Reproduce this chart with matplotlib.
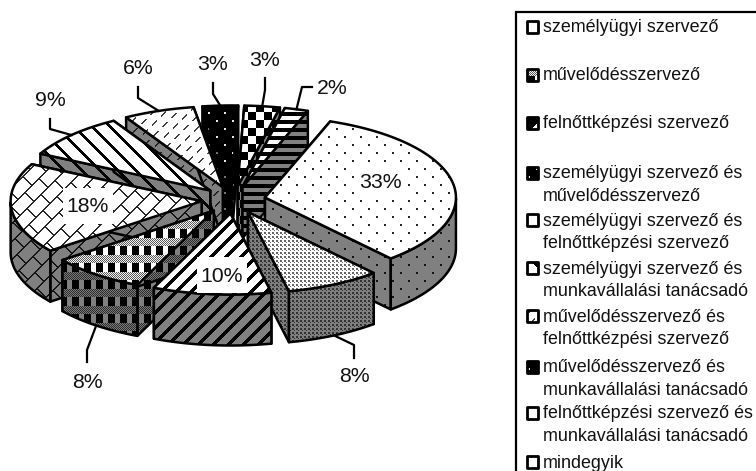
import numpy as np
import matplotlib
matplotlib.use("Agg")
import matplotlib.pyplot as plt
from matplotlib.patches import Polygon, Rectangle

plt.rcParams['font.family'] = ['Liberation Sans', 'DejaVu Sans']

# values in legend order, clockwise from the start angle
values = [33, 8, 10, 8, 18, 9, 6, 3, 3, 2]
value_labels = ['33%', '8%', '10%', '8%', '18%', '9%', '6%', '3%', '3%', '2%']
legend_labels = [
    'személyügyi szervező',
    'művelődésszervező',
    'felnőttképzési szervező',
    'személyügyi szervező és\nművelődésszervező',
    'személyügyi szervező és\nfelnőttképzési szervező',
    'személyügyi szervező és\nmunkavállalási tanácsadó',
    'művelődésszervező és\nfelnőttkézpési szervező',
    'művelődésszervező és\nmunkavállalási tanácsadó',
    'felnőttképzési szervező és\nmunkavállalási tanácsadó',
    'mindegyik',
]

W, H = 756, 471
CX, CY = 233.5, 200
RX, RY = 191, 81
EXPLODE = 32
DEPTH = 51
START = 20
WHITE_BOX = {0, 2, 4}

# label centre and elbow of the leader (None = label sits inside the slice)
label_pos = [(380, 182), (354, 376), (222, 275), (87, 381), (88, 206),
             (50, 100), (138, 68), (213, 64), (265, 59), (332, 87)]
elbows = [None, [(354, 358), (354, 345)], None, [(87, 362), (87, 350)], None,
          [(50, 119), (50, 129)], [(138, 87), (138, 98)], [(213, 83), (213, 94)],
          [(265, 78), (265, 90)], [(312, 87), (302, 87)]]
legend_rows = [27, 75, 123, 173, 220, 268, 316, 367, 413, 462]
LINE_GAP = 22.5

Y, X = np.mgrid[0:H, 0:W]


def dots(x, y):
    on = ((x % 16 < 2) & (y % 16 < 2)) | (((x + 8) % 16 < 2) & ((y + 8) % 16 < 2))
    return 1.0 - on * 0.85


def fine_dots(x, y):
    on = ((x % 4 < 2) & (y % 4 < 2)) | (((x + 2) % 4 < 1) & ((y + 2) % 4 < 1))
    return 1.0 - on * 0.6


def diag_up(x, y):
    return 1.0 - ((x + y) % 15 < 5) * 1.0


def plaid(x, y):
    band = y % 17 < 8
    out = np.where((x % 12 < 7) & ~band, 0.0, 1.0)
    return np.where(band, 0.35 + 0.6 * ((x + y) % 2), out)


def bricks(x, y):
    u = x + y
    v = x - y
    row = u // 18
    line = u % 18 < 2
    tick = (v + row * 14) % 28 < 2
    return 1.0 - (line | tick) * 0.85


def diag_down(x, y):
    return 1.0 - ((x - y) % 18 < 4) * 1.0


def dashes(x, y):
    u = x + y
    v = x - y + (u // 12) * 9
    return 1.0 - ((u % 12 < 2) & (v % 18 < 10)) * 0.75


def black_dots(x, y):
    on = ((x % 16 < 2) & (y % 16 < 2)) | (((x + 8) % 16 < 2) & ((y + 8) % 16 < 2))
    return on * 0.9


def checks(x, y):
    return 1.0 - ((x // 8 + y // 8) % 2) * 1.0


def stripes(x, y):
    return 1.0 - (y % 8 < 4) * 1.0


def blank(x, y):
    return np.ones_like(x, dtype=float)


def half_up(x, y):
    return 1.0 - ((x + y) % 40 < 20) * 1.0


textures = [dots, fine_dots, diag_up, plaid, bricks, diag_down, dashes,
            black_dots, checks, stripes]
# the small legend keys only show a scrap of each pattern
key_textures = [blank, plaid, half_up, black_dots, blank, diag_down, dashes,
                black_dots, blank, blank]

fig = plt.figure(figsize=(W / 100, H / 100), dpi=100)
ax = fig.add_axes([0, 0, 1, 1])
ax.axis('off')

order = [0]


def face(pts, tex, shade, lw=2.5):
    # textured polygon with a black outline, painted over what came before
    order[0] += 1
    poly = Polygon(pts, closed=True, fc='none', ec='black', lw=lw * 0.72,
                   joinstyle='round', zorder=order[0] + 0.5)
    ax.add_patch(poly)
    im = ax.imshow(tex(X, Y) * shade, cmap='gray', vmin=0, vmax=1,
                   extent=(0, W, H, 0), interpolation='nearest', zorder=order[0])
    im.set_clip_path(poly)


def point(t, ox, oy):
    return ox + RX * np.sin(t), oy - RY * np.cos(t)


# slice angles (clockwise from top, radians)
shares = np.array(values) / sum(values) * 2 * np.pi
starts = np.radians(START) + np.concatenate([[0], np.cumsum(shares)[:-1]])
ends = starts + shares
mids = (starts + ends) / 2
ox = CX + EXPLODE * np.sin(mids)
oy = CY - EXPLODE * RY / RX * np.cos(mids)

ax.set_xlim(0, W)
ax.set_ylim(H, 0)
ax.set_aspect('auto')

# back slices first
for i in np.argsort(-np.cos(mids)):
    tex = textures[i]
    ts = np.linspace(starts[i], ends[i], 80)
    ax_, ay_ = point(ts, ox[i], oy[i])
    arc = np.column_stack([ax_, ay_])
    apex = np.array([ox[i], oy[i]])
    drop = np.array([0, DEPTH])
    for edge in (arc[0], arc[-1]):
        face([apex, edge, edge + drop, apex + drop], tex, 0.5)
    low = np.cos(ts) <= 0
    if low.sum() > 1:
        face(np.vstack([arc[low], arc[low][::-1] + drop]), tex, 0.5)
    face(np.vstack([apex, arc]), tex, 1.0)

# percentage labels and leaders
top = order[0] + 10
for i, txt in enumerate(value_labels):
    lx, ly = label_pos[i]
    if i in WHITE_BOX:
        ax.add_patch(Rectangle((lx - 25, ly - 18), 50, 36, fc='white', ec='none', zorder=top))
    ax.text(lx, ly + 1, txt, fontsize=15.3, ha='center', va='center', color='#111111',
            zorder=top + 1)
    if elbows[i] is not None:
        ex, ey = point(mids[i], ox[i], oy[i])
        if np.cos(mids[i]) < 0:
            ey += DEPTH
        xs = [p[0] for p in elbows[i]] + [ex]
        ys = [p[1] for p in elbows[i]] + [ey]
        ax.plot(xs, ys, color='black', lw=1.6, zorder=top, solid_joinstyle='round')

# legend box runs off the right and bottom edges
ax.add_patch(Rectangle((516, 12), 300, 500, fc='white', ec='black', lw=1.6, zorder=top))
for i, name in enumerate(legend_labels):
    y = legend_rows[i]
    order[0] = top + 1 + i * 2
    face([(527, y - 6), (538, y - 6), (538, y + 6), (527, y + 6)], key_textures[i], 1.0, lw=2.8)
    ax.text(543, y + 1, name.split('\n')[0], fontsize=12.9, ha='left', va='center',
            color='#111111', zorder=top + 30)
    if '\n' in name:
        ax.text(543, y + 1 + LINE_GAP, name.split('\n')[1], fontsize=12.9, ha='left',
                va='center', color='#111111', zorder=top + 30)

fig.savefig('out.png', dpi=100)
